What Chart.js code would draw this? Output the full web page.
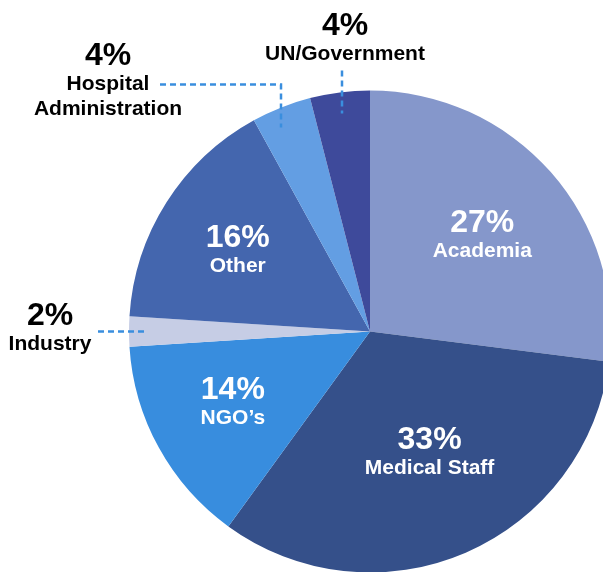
<!DOCTYPE html>
<html>
<head>
<meta charset="utf-8">
<script src="https://cdn.jsdelivr.net/npm/chart.js@4/dist/chart.umd.min.js"></script>
<style>
html,body{margin:0;padding:0;background:#fff;overflow:hidden;width:603px;height:572px;}
#c{position:absolute;left:0;top:0;}
</style>
</head>
<body>
<canvas id="c" width="740" height="663"></canvas>
<script>
const categories = ["Academia", "Medical Staff", "NGO\u2019s", "Industry", "Other", "Hospital Administration", "UN/Government"];
const values = [27, 33, 14, 2, 16, 4, 4];
const percentLabels = ["27%", "33%", "14%", "2%", "16%", "4%", "4%"];
const colors = ["#8597CB", "#35508A", "#388DDE", "#C6CDE5", "#4466AE", "#639EE3", "#3E4A9B"];

// label layout (annotation only)
const inside = {
  0:{r:0.61, dx:2, dy:3},
  1:{r:0.57, dx:5, dy:-3},
  2:{r:0.64, dx:-2, dy:-2},
  4:{r:0.65, dx:0, dy:5}
};
const outside = {
  3:{lines:["Industry"], pct:{dx:-320,dy:-15}, name:{dx:-320,dy:13}, leader:[[-272,0],[-222,0]]},
  5:{lines:["Hospital","Administration"], pct:{dx:-262,dy:-275}, name:{dx:-262,dy:-247}, leader:[[-210,-247],[-89,-247],[-89,-204]]},
  6:{lines:["UN/Government"], pct:{dx:-25,dy:-305}, name:{dx:-25,dy:-277}, leader:[[-28,-261],[-28,-218]]}
};

const FONT = '"Liberation Sans", Arial, sans-serif';

const labelPlugin = {
  id: 'labels',
  afterDatasetsDraw(chart) {
    const ctx = chart.ctx;
    const meta = chart.getDatasetMeta(0);
    ctx.save();
    ctx.textAlign = 'center';
    ctx.textBaseline = 'middle';
    meta.data.forEach((arc, i) => {
      const p = arc.getProps(['x','y','startAngle','endAngle','outerRadius']);
      const mid = (p.startAngle + p.endAngle) / 2;
      if (inside[i]) {
        const r = p.outerRadius * inside[i].r;
        const cx = p.x + Math.cos(mid) * r + inside[i].dx;
        const cy = p.y + Math.sin(mid) * r + inside[i].dy;
        ctx.fillStyle = '#ffffff';
        ctx.font = 'bold 32px ' + FONT;
        ctx.fillText(percentLabels[i], cx, cy - 14);
        ctx.font = 'bold 21px ' + FONT;
        ctx.fillText(categories[i], cx, cy + 14);
      } else if (outside[i]) {
        const o = outside[i];
        ctx.fillStyle = '#000000';
        ctx.font = 'bold 32px ' + FONT;
        ctx.fillText(percentLabels[i], p.x + o.pct.dx, p.y + o.pct.dy);
        ctx.font = 'bold 21px ' + FONT;
        o.lines.forEach((t, k) => ctx.fillText(t, p.x + o.name.dx, p.y + o.name.dy + k * 25));
        ctx.strokeStyle = '#3A8EDE';
        ctx.lineWidth = 2.5;
        ctx.setLineDash([6, 4]);
        ctx.beginPath();
        o.leader.forEach((pt, k) => {
          const X = p.x + pt[0], Y = p.y + pt[1];
          if (k === 0) ctx.moveTo(X, Y); else ctx.lineTo(X, Y);
        });
        ctx.stroke();
        ctx.setLineDash([]);
      }
    });
    ctx.restore();
  }
};

new Chart(document.getElementById('c'), {
  type: 'pie',
  data: {
    labels: categories,
    datasets: [{
      data: values,
      backgroundColor: colors,
      borderWidth: 0,
      hoverOffset: 0
    }]
  },
  options: {
    responsive: false,
    animation: false,
    devicePixelRatio: 1,
    radius: 241,
    layout: { padding: 0 },
    plugins: { legend: { display: false }, tooltip: { enabled: false } }
  },
  plugins: [labelPlugin]
});
</script>
</body>
</html>
